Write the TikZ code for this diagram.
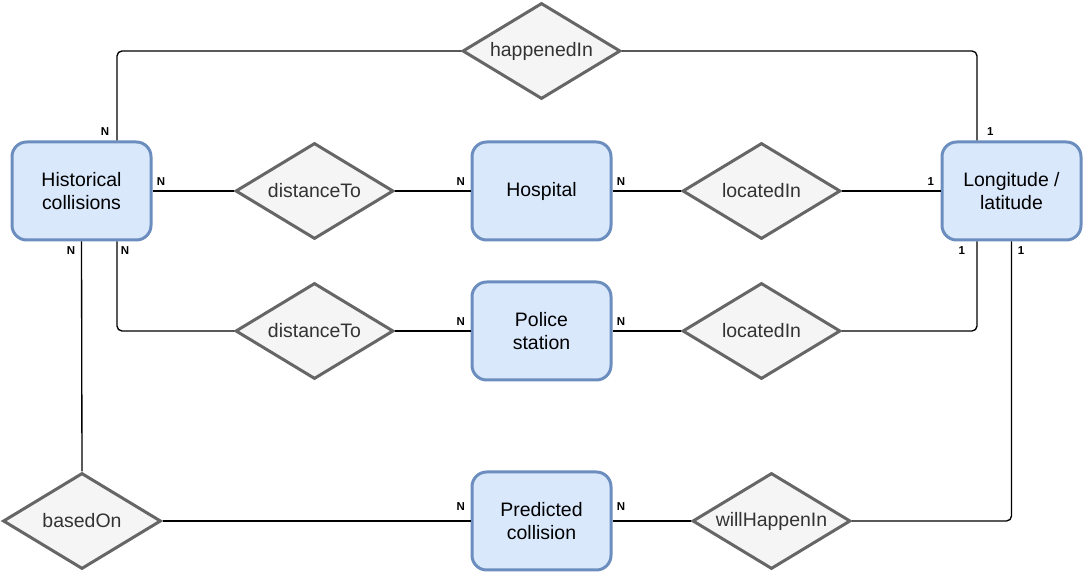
\documentclass[tikz,border=0pt]{standalone}
\usepackage{fontspec}
\setmainfont{Liberation Sans}
\usetikzlibrary{shapes.geometric,calc}
\definecolor{entfill}{HTML}{DAE8FC}
\definecolor{entdraw}{HTML}{6C8EBF}
\definecolor{relfill}{HTML}{F5F5F5}
\definecolor{reldraw}{HTML}{666666}
\definecolor{reltext}{HTML}{333333}
\tikzset{
 entity/.style={draw=entdraw, fill=entfill, line width=2.25pt, rounded corners=11pt,
   minimum width=104.25pt, minimum height=73.5pt, inner sep=0pt, align=center,
   font=\fontsize{14.6pt}{17.5pt}\selectfont},
 rel/.style={shape=diamond, draw=reldraw, fill=relfill, line width=2.25pt,
   minimum width=118.5pt, minimum height=72pt, inner sep=0pt, text=reltext,
   font=\fontsize{14.6pt}{17.5pt}\selectfont},
 conn/.style={draw=black, line width=1pt, rounded corners=3.75pt},
 card/.style={font=\fontsize{8.6pt}{10pt}\selectfont\bfseries, inner sep=0pt},
}
\begin{document}
\begin{tikzpicture}[x=0.75pt,y=-0.75pt]
\useasboundingbox (0,0) rectangle (1083,573);
% entities
\node[entity] (hist) at (81.5,191) {Historical\\collisions};
\node[entity] (hosp) at (541.5,191) {Hospital};
\node[entity] (lon) at (1011.5,191) {Longitude /\\latitude};
\node[entity] (pol) at (541.5,331) {Police\\station};
\node[entity] (pred) at (541.5,521) {Predicted\\collision};
% relationships
\node[rel] (happ) at (541.5,51) {\makebox[0pt]{happenedIn}};
\node[rel] (dist1) at (314.5,191) {\makebox[0pt]{distanceTo}};
\node[rel] (loc1) at (761.5,191) {\makebox[0pt]{locatedIn}};
\node[rel] (dist2) at (314.5,331) {\makebox[0pt]{distanceTo}};
\node[rel] (loc2) at (761.5,331) {\makebox[0pt]{locatedIn}};
\node[rel] (based) at (82,521) {\makebox[0pt]{basedOn}};
\node[rel] (will) at (771.5,521) {\makebox[0pt]{willHappenIn}};
% helper coordinates
\coordinate (histNE) at ($(hist.north)+(35.5,0)$);
\coordinate (histSE) at ($(hist.south)+(35.5,0)$);
\coordinate (lonNW) at ($(lon.north)+(-34.5,0)$);
\coordinate (lonSW) at ($(lon.south)+(-34.5,0)$);
% connectors
\draw[conn] (histNE) |- (happ.west);
\draw[conn] (happ.east) -| (lonNW);
\draw[conn] (hist.east) -- (dist1.west);
\draw[conn] (dist1.east) -- (hosp.west);
\draw[conn] (hosp.east) -- (loc1.west);
\draw[conn] (loc1.east) -- (lon.west);
\draw[conn] (histSE) |- (dist2.west);
\draw[conn] (dist2.east) -- (pol.west);
\draw[conn] (pol.east) -- (loc2.west);
\draw[conn] (loc2.east) -| (lonSW);
\draw[conn] (hist.south) -- (based.north);
\draw[conn] (based.east) -- (pred.west);
\draw[conn] (pred.east) -- (will.west);
\draw[conn] (will.east) -| (lon.south);
% cardinalities
\node[card] (c1) at (105,131.7) {N};
\node[card] (c2) at (161,181.7) {N};
\node[card] (c3) at (71,251) {N};
\node[card] (c4) at (125,251) {N};
\node[card] (c5) at (460.7,181.7) {N};
\node[card] (c6) at (621,181.7) {N};
\node[card] (c7) at (460.7,322) {N};
\node[card] (c8) at (621,322) {N};
\node[card] (c9) at (460.7,507) {N};
\node[card] (c10) at (621,507) {N};
\node[card] (o1) at (990.3,132) {1};
\node[card] (o2) at (930.7,181.7) {1};
\node[card] (o3) at (961.7,251) {1};
\node[card] (o4) at (1021,251) {1};
\end{tikzpicture}
\end{document}
